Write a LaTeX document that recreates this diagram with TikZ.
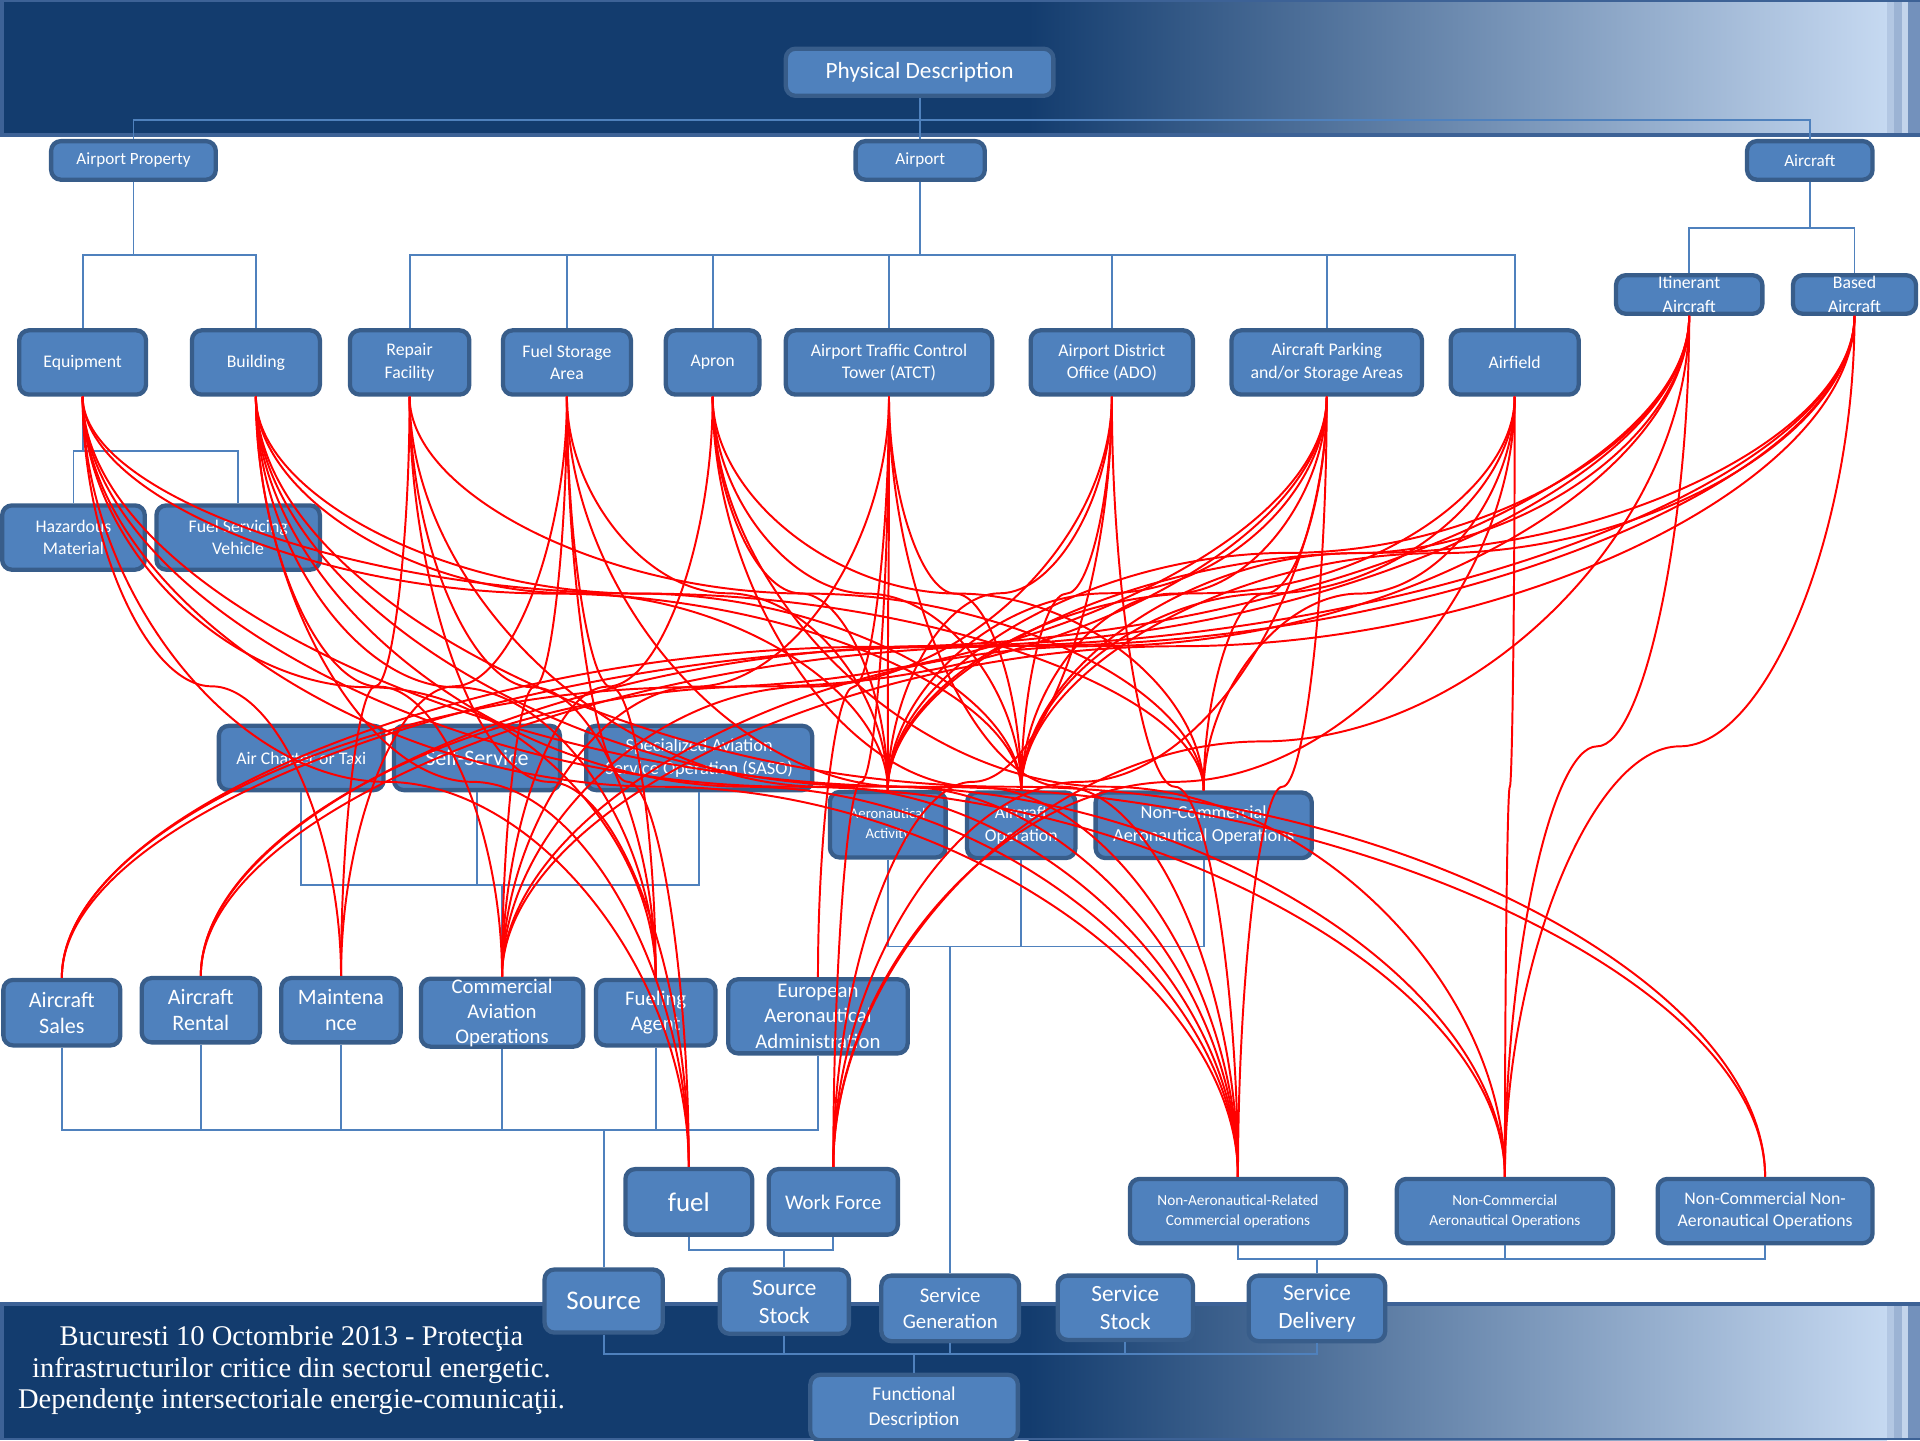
\documentclass[tikz,border=0pt]{standalone}
\usepackage{fontspec}
\setmainfont{Carlito}
\newfontfamily\footserif{Liberation Serif}
\usetikzlibrary{calc}
\definecolor{boxfill}{HTML}{4F81BD}
\definecolor{boxline}{HTML}{385D8A}
\definecolor{navy}{HTML}{133C6E}
\definecolor{paleband}{HTML}{C6D9F1}
\definecolor{bandline}{HTML}{3D6296}
\definecolor{treeline}{HTML}{4F81BD}
\newcommand\fz[2]{\fontsize{#1}{#2}\selectfont}
% curved dependency link: leaves #1 downwards, crosses the midpoint horizontally, enters #2 from above
\newcommand\rl[2]{%
  \draw[rc] let \p1=(#1.south), \p2=(#2.north) in
    (\p1) .. controls (\x1,{(\y1)+((\y2)-(\y1))/4}) and ({(\x1)+((\x2)-(\x1))/4},{((\y1)+(\y2))/2})
    .. ({((\x1)+(\x2))/2},{((\y1)+(\y2))/2})
    .. controls ({(\x1)+3*((\x2)-(\x1))/4},{((\y1)+(\y2))/2}) and (\x2,{(\y1)+3*((\y2)-(\y1))/4}) .. (\p2);}
\newcommand\band[2]{%
  \fill[navy] (0,#1) rectangle (842,#2);
  \shade[left color=navy, right color=paleband] (840,#1) rectangle (1541,#2);
  \fill[HTML=B3C7E3] (1541,#1) rectangle (1547,#2);
  \fill[HTML=9CB3D4] (1547,#1) rectangle (1553,#2);
  \fill[HTML=C3D4EB] (1553,#1) rectangle (1558,#2);
  \fill[HTML=7391BC] (1558,#1) rectangle (1568,#2);}
\begin{document}
\begin{tikzpicture}[x=1pt,y=-1pt,
  box/.style={draw=boxline, fill=boxfill, line width=3.5pt, rounded corners=8pt,
    text=white, align=center, inner sep=0pt, font=\fz{14.5}{18.5}},
  sz/.style 2 args={minimum width={#1pt-3.5pt}, minimum height={#2pt-3.5pt}},
  tree/.style={draw=treeline, line width=1.5pt},
  rc/.style={draw=red, line width=1.6pt},
  HTML/.code={\definecolor{tmpc}{HTML}{#1}\pgfsetfillcolor{tmpc}}]
\useasboundingbox (0,0) rectangle (1568,1176);

% header and footer bands
\band{0}{110}
\draw[bandline, line width=2pt] (0,1) -- (1568,1);
\draw[bandline, line width=3pt] (1.5,0) -- (1.5,110);
\draw[bandline, line width=3.5pt] (0,110) -- (1568,110);
\band{1065}{1176}
\draw[bandline, line width=3.5pt] (0,1065) -- (1568,1065);
\draw[bandline, line width=3pt] (1.5,1065) -- (1.5,1176);
\draw[bandline, line width=2pt] (0,1175) -- (1568,1175);

\node[text=white, font=\footserif\fz{23.3}{26}, align=center] (ftxt) at (238,1119)
  {Bucuresti 10 Octombrie 2013 - Protecţia\\infrastructurilor critice din sectorul energetic.\\Dependenţe intersectoriale energie-comunicaţii.};

% physical description tree
\node[box, sz={222}{42}, font=\fz{19}{22}] (pd) at (751,59) {Physical Description};
\node[box, sz={138}{35}, font=\fz{14}{17}] (apr) at (109,131) {Airport Property};
\node[box, sz={109}{35}, font=\fz{14}{17}] (apt) at (751.5,131) {Airport};
\node[box, sz={106}{35}, font=\fz{14}{17}] (acf) at (1478,131) {Aircraft};

\node[box, sz={107}{56}] (eq)  at (67.5,296) {Equipment};
\node[box, sz={108}{56}] (bd)  at (209,296) {Building};
\node[box, sz={101}{56}] (rp)  at (334.5,296) {Repair\\Facility};
\node[box, sz={108}{56}] (fs)  at (463,296) {Fuel Storage\\Area};
\node[box, sz={80}{56}]  (apn) at (582,296) {Apron};
\node[box, sz={172}{56}] (atc) at (726,296) {Airport Traffic Control\\Tower (ATCT)};
\node[box, sz={136}{56}] (ado) at (908,296) {Airport District\\Office (ADO)};
\node[box, sz={159}{56}] (pk)  at (1083.5,296) {Aircraft Parking\\and/or Storage Areas};
\node[box, sz={108}{56}] (af)  at (1237,296) {Airfield};

\node[box, sz={123}{35}, font=\fz{14.5}{19}] (itn) at (1379.5,240.5) {Itinerant\\Aircraft};
\node[box, sz={104}{35}, font=\fz{14.5}{19}] (bsd) at (1514.5,240.5) {Based\\Aircraft};

\node[box, sz={120}{56}] (hz)  at (60,439) {Hazardous\\Material};
\node[box, sz={137}{56}] (fsv) at (194.5,439) {Fuel Servicing\\Vehicle};

% service providers and operations
\node[box, sz={138}{56}] (act) at (246,619) {Air Charter or Taxi};
\node[box, sz={139}{56}, font=\fz{18}{21}] (ss) at (389.5,619) {Self-Service};
\node[box, sz={188}{56}, font=\fz{15}{18.5}] (saso) at (571,619) {Specialized Aviation\\Service Operation (SASO)};

\node[box, sz={98}{57}, font=\fz{12}{16}] (aa) at (725,673.5) {Aeronautical\\Activity};
\node[box, sz={92}{57}, font=\fz{14.5}{18.5}] (ao) at (834,674) {Aircraft\\Operation};
\node[box, sz={180}{57}, font=\fz{15}{18.5}] (nm) at (983,674) {Non-Commercial\\Aeronautical Operations};

\node[box, sz={99}{57},  font=\fz{18}{21}] (as) at (50.5,827) {Aircraft\\Sales};
\node[box, sz={100}{56}, font=\fz{18}{21}] (ar) at (164,825) {Aircraft\\Rental};
\node[box, sz={101}{56}, font=\fz{18}{21}] (mn) at (278.5,825) {Maintena\\nce};
\node[box, sz={136}{58}, font=\fz{17}{20.5}] (ca) at (410,827) {Commercial\\Aviation\\Operations};
\node[box, sz={101}{57}, font=\fz{17}{21}] (fa) at (535.5,827) {Fueling\\Agent};
\node[box, sz={150}{64}, font=\fz{17}{21}] (ea) at (668,830) {European\\Aeronautical\\Administration};

\node[box, sz={107}{57}, font=\fz{22}{24}] (fu) at (562.5,981.5) {fuel};
\node[box, sz={109}{57}, font=\fz{17}{20}] (wf) at (680.5,981.5) {Work Force};

\node[box, sz={180}{56}, font=\fz{12.5}{16.5}] (nr) at (1011,989) {Non-Aeronautical-Related\\Commercial operations};
\node[box, sz={180}{56}, font=\fz{12.5}{16.5}] (nc) at (1229,989) {Non-Commercial\\Aeronautical Operations};
\node[box, sz={179}{56}, font=\fz{14.5}{18}] (nn) at (1441.5,989) {Non-Commercial Non-\\Aeronautical Operations};

% functional description tree
\node[box, sz={100}{55}, font=\fz{22}{24}] (src) at (493,1062.5) {Source};
\node[box, sz={109}{56}, font=\fz{19}{23}] (sst) at (640.5,1063) {Source\\Stock};
\node[box, sz={116}{57}, font=\fz{17}{21}] (sg)  at (776,1068.5) {Service\\Generation};
\node[box, sz={114}{56}, font=\fz{19}{23}] (svs) at (919,1068) {Service\\Stock};
\node[box, sz={115}{57}, font=\fz{19}{23}] (sd)  at (1075.5,1068.5) {Service\\Delivery};
\node[box, sz={173}{57}, font=\fz{16}{20}] (fd)  at (746.5,1149.5) {Functional\\Description};

% hierarchy connectors
\coordinate (b0) at (0,98);
\draw[tree] (pd.south) -- (pd.south |- b0);
\foreach \c in {apr,apt,acf} \draw[tree] (\c.north) |- (pd.south |- b0);
\coordinate (b1) at (0,208);
\draw[tree] (apr.south) -- (apr.south |- b1);
\foreach \c in {eq,bd} \draw[tree] (\c.north) |- (apr.south |- b1);
\draw[tree] (apt.south) -- (apt.south |- b1);
\foreach \c in {rp,fs,apn,atc,ado,pk,af} \draw[tree] (\c.north) |- (apt.south |- b1);
\coordinate (b2) at (0,186);
\draw[tree] (acf.south) -- (acf.south |- b2);
\foreach \c in {itn,bsd} \draw[tree] (\c.north) |- (acf.south |- b2);
\coordinate (b3) at (0,368);
\draw[tree] (eq.south) -- (eq.south |- b3);
\foreach \c in {hz,fsv} \draw[tree] (\c.north) |- (eq.south |- b3);

\coordinate (b4) at (0,723);
\draw[tree] (ca.north) -- (ca.north |- b4);
\foreach \c in {act,ss,saso} \draw[tree] (\c.south) |- (ca.north |- b4);
\coordinate (b5) at (0,773);
\draw[tree] (sg.north) -- (sg.north |- b5);
\foreach \c in {aa,ao,nm} \draw[tree] (\c.south) |- (sg.north |- b5);
\coordinate (b6) at (0,923);
\draw[tree] (src.north) -- (src.north |- b6);
\foreach \c in {as,ar,mn,ca,fa,ea} \draw[tree] (\c.south) |- (src.north |- b6);
\coordinate (b7) at (0,1021);
\draw[tree] (sst.north) -- (sst.north |- b7);
\foreach \c in {fu,wf} \draw[tree] (\c.south) |- (sst.north |- b7);
\coordinate (b8) at (0,1028);
\draw[tree] (sd.north) -- (sd.north |- b8);
\foreach \c in {nr,nc,nn} \draw[tree] (\c.south) |- (sd.north |- b8);
\coordinate (b9) at (0,1106);
\draw[tree] (fd.north) -- (fd.north |- b9);
\foreach \c in {src,sst,sg,svs,sd} \draw[tree] (\c.south) |- (fd.north |- b9);

% dependency links between physical and functional elements
\foreach \t in {mn,fa,fu,ao,nm,nr,nc,nn} {\rl{eq}{\t}}
\foreach \t in {ca,fa,fu,aa,ao,nr,nc,nn} {\rl{bd}{\t}}
\foreach \t in {mn,fa,fu,nm,nr} {\rl{rp}{\t}}
\foreach \t in {mn,ca,fa,fu,aa,nr} {\rl{fs}{\t}}
\foreach \t in {ca,aa,ao,nm,nr,nc} {\rl{apn}{\t}}
\foreach \t in {ca,ea,wf,aa,ao,nr} {\rl{atc}{\t}}
\foreach \t in {ca,wf,aa,ao,nr} {\rl{ado}{\t}}
\foreach \t in {as,ar,aa,ao,nm,nr,wf} {\rl{pk}{\t}}
\foreach \t in {nc,aa,ao,nm,wf} {\rl{af}{\t}}
\foreach \t in {as,ar,ca,aa,ao,wf,nc} {\rl{itn}{\t}}
\foreach \t in {as,ar,ca,aa,ao,nc} {\rl{bsd}{\t}}
\end{tikzpicture}
\end{document}
